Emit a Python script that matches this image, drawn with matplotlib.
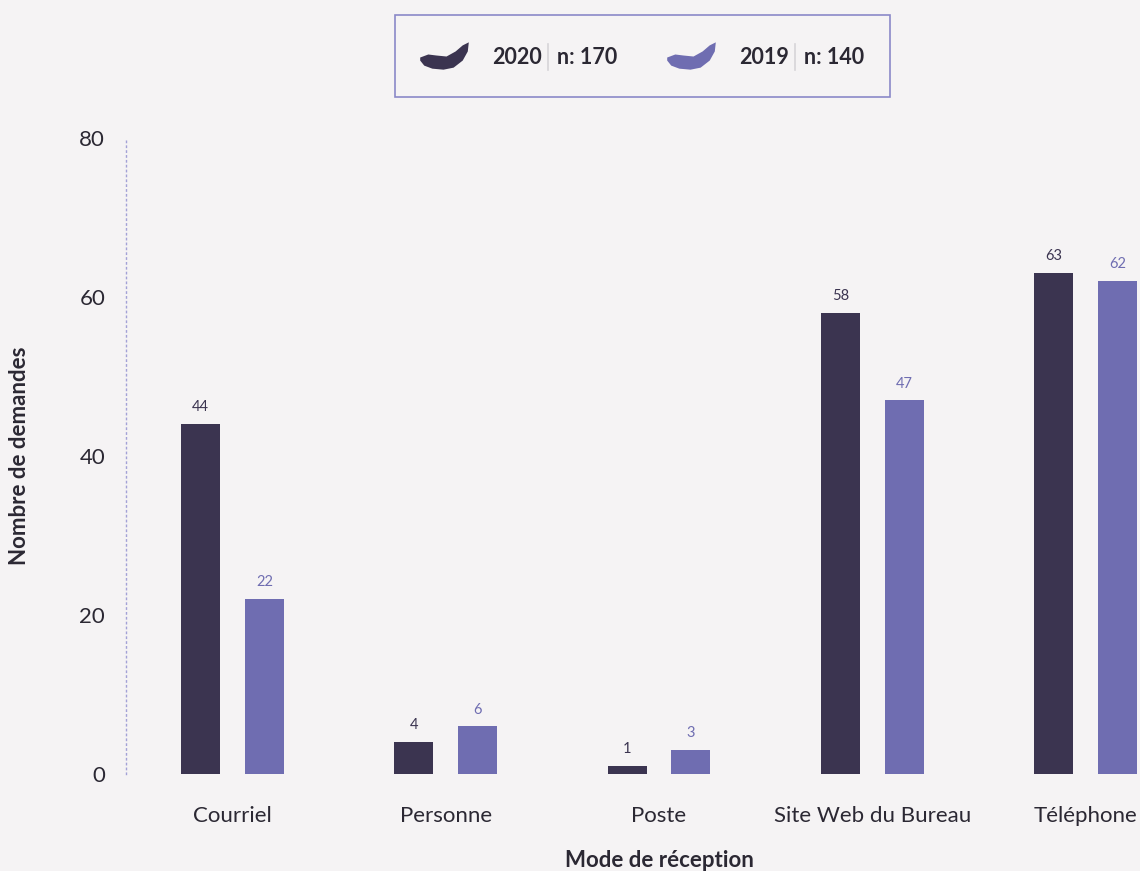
import numpy as np
import matplotlib.pyplot as plt
from matplotlib.path import Path
from matplotlib.lines import Line2D
from matplotlib.patches import Rectangle

plt.rcParams['font.family'] = ['Lato', 'DejaVu Sans']

# data
modes = ["Courriel", "Personne", "Poste", "Site Web du Bureau", "Téléphone"]
years = ["2020", "2019"]
totals = [170, 140]
v2020 = [44, 4, 1, 58, 63]
v2019 = [22, 6, 3, 47, 62]

bg = "#f5f3f4"
dark = "#3b3450"
light = "#6f6db1"
txt = "#2b2833"

fig = plt.figure(figsize=(11.4, 8.71), dpi=100, facecolor=bg)
# right part of the axes runs past the figure edge on purpose
ax = fig.add_axes([126 / 1140, 97 / 871, 1066 / 1140, 636 / 871])
ax.set_facecolor(bg)

x = np.arange(len(modes))
w = 0.183
off = 0.15
b1 = ax.bar(x - off, v2020, w, color=dark)
b2 = ax.bar(x + off, v2019, w, color=light)
for bars, vals, c in [(b1, v2020, dark), (b2, v2019, light)]:
    for r, v in zip(bars, vals):
        ax.annotate(str(v), (r.get_x() + r.get_width() / 2, v), xytext=(0, 7),
                    textcoords="offset points", ha="center", va="bottom",
                    fontsize=10.5, color=c)

ax.set_xlim(-0.5, 4.5)
ax.set_ylim(0, 80)
ax.set_yticks([0, 20, 40, 60, 80])
ax.set_xticks(x)
ax.set_xticklabels(modes)
ax.tick_params(axis="both", length=0, labelsize=16, colors=txt)
ax.tick_params(axis="x", pad=23)
ax.tick_params(axis="y", pad=15)
for s in ["top", "right", "bottom"]:
    ax.spines[s].set_visible(False)
ax.spines["left"].set_linestyle((0, (1, 2.5)))
ax.spines["left"].set_color("#a3a1d6")
ax.spines["left"].set_linewidth(1)

fig.text(659 / 1140, 1 - 860 / 871, "Mode de réception", ha="center", va="center",
         fontsize=16, fontweight="bold", color=txt)
fig.text(20 / 1140, 1 - 456 / 871, "Nombre de demandes", ha="center", va="center",
         rotation=90, fontsize=16, fontweight="bold", color=txt)

# legend box
fig.add_artist(Rectangle((395 / 1140, 1 - 97 / 871), 495 / 1140, 82 / 871,
                         transform=fig.transFigure, facecolor=bg,
                         edgecolor="#8b89c8", linewidth=1.2))

# brush-stroke style legend marker
pts = np.array([(420, 57), (428, 54), (436, 55), (446, 56), (455, 51), (462, 45),
                (468, 42), (467, 51), (462, 60), (453, 67), (443, 69), (432, 68),
                (424, 65), (420, 60)], dtype=float)
verts = np.c_[pts[:, 0] - 444, -(pts[:, 1] - 55)]
verts = np.vstack([verts, verts[:1]])
stroke = Path(verts, closed=True)

mk_x = [444, 691]
lab_x = [492, 739]
for i in range(2):
    c = dark if i == 0 else light
    fig.add_artist(Line2D([mk_x[i] / 1140], [1 - 55 / 871], marker=stroke,
                          markersize=35, color=c, linestyle="none",
                          markeredgewidth=0, transform=fig.transFigure))
    fig.text(lab_x[i] / 1140, 1 - 57 / 871, years[i], ha="left", va="center",
             fontsize=15.5, fontweight="bold", color=txt)
    sx = (lab_x[i] + 56) / 1140
    fig.add_artist(Line2D([sx, sx], [1 - 44 / 871, 1 - 70 / 871], color="#d6d4d8",
                          linewidth=1.2, transform=fig.transFigure))
    fig.text((lab_x[i] + 65) / 1140, 1 - 57 / 871, "n: %d" % totals[i], ha="left",
             va="center", fontsize=15.5, fontweight="bold", color=txt)

fig.savefig("out.png", dpi=100, facecolor=bg)
